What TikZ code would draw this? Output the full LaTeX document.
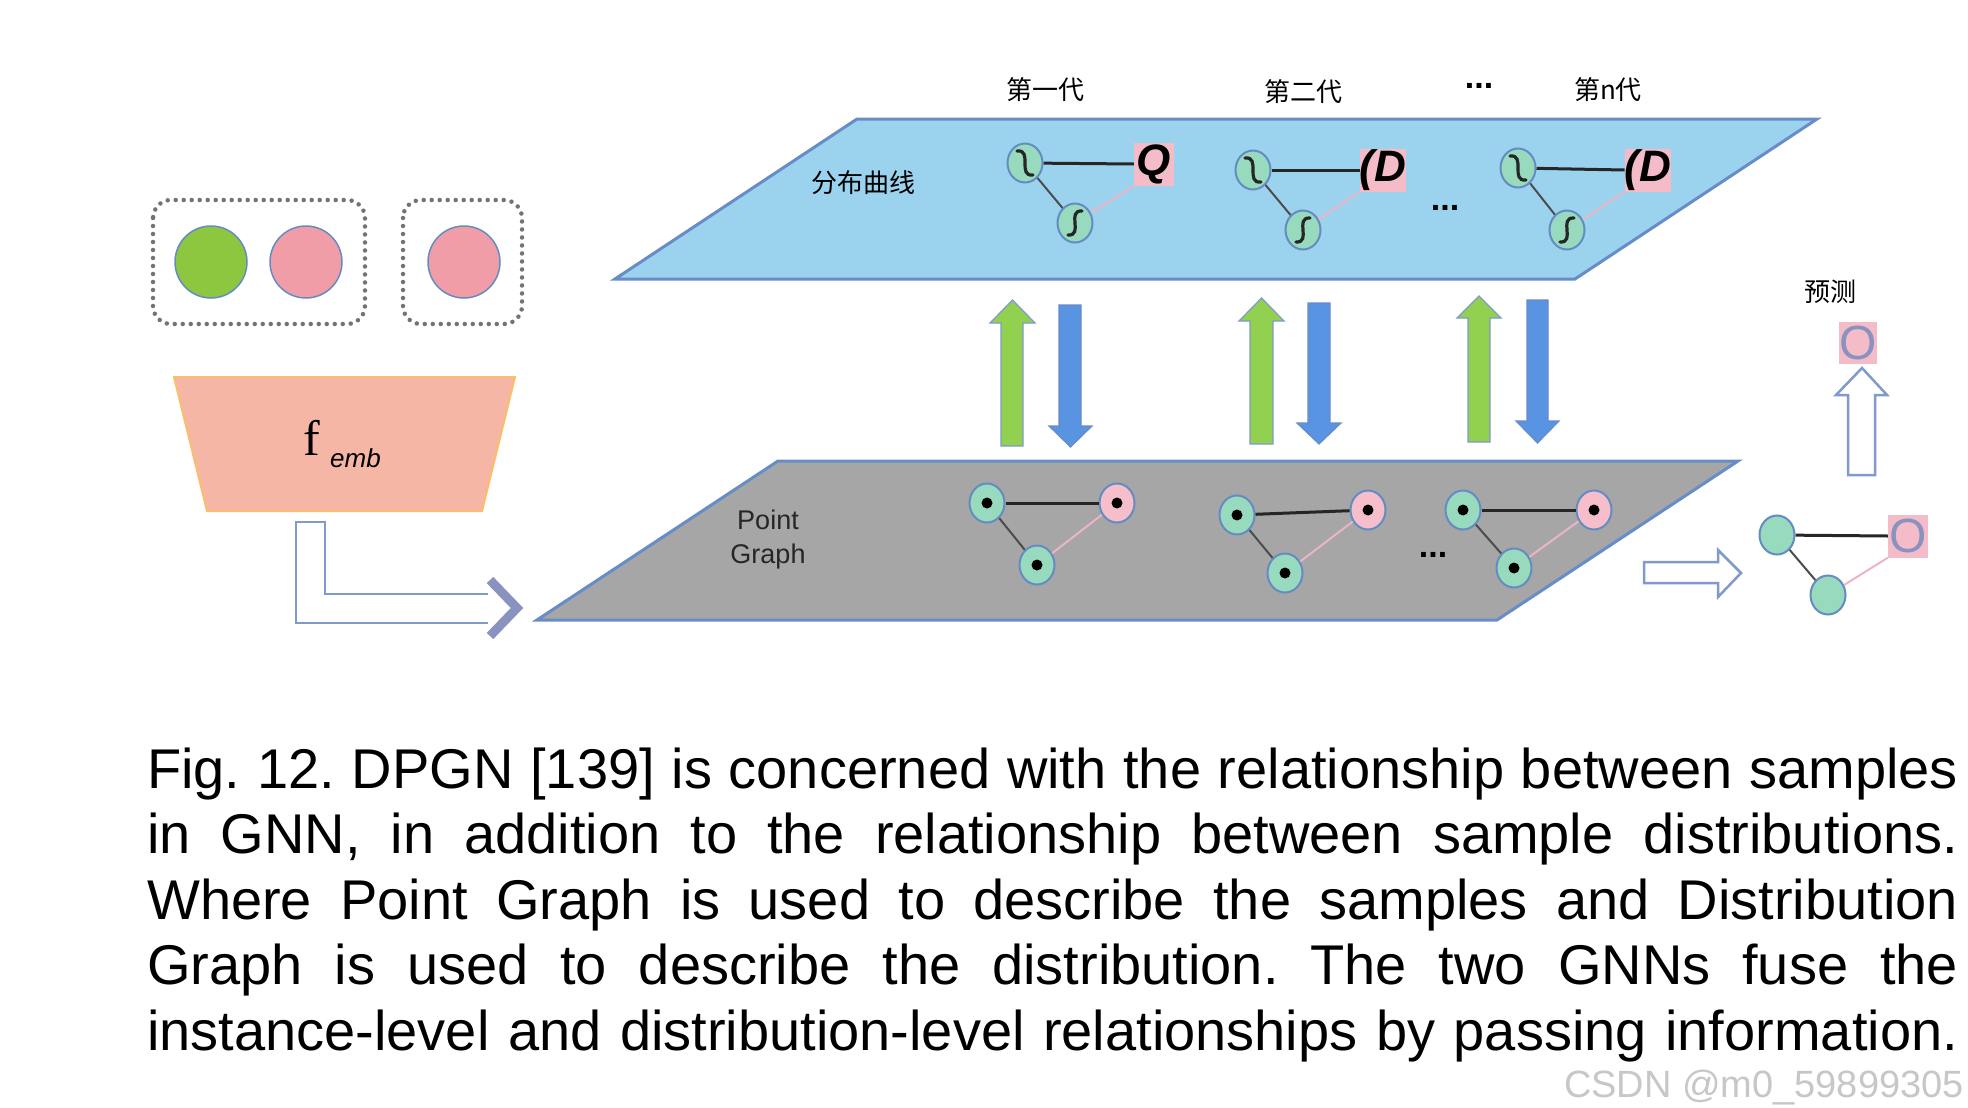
\documentclass[tikz,border=0pt]{standalone}
\usepackage{fontspec}
\newfontfamily\arialf{Liberation Sans}
\newfontfamily\timesf{Liberation Serif}
\newfontfamily\cjk{Noto Sans CJK SC}
\usetikzlibrary{shapes.geometric}
\frenchspacing
\definecolor{planeblue}{RGB}{155,211,238}
\definecolor{planeborder}{RGB}{104,140,200}
\definecolor{planegray}{RGB}{166,166,166}
\definecolor{mint}{RGB}{152,218,190}
\definecolor{nodeborder}{RGB}{100,140,195}
\definecolor{pinkC}{RGB}{244,188,200}
\definecolor{pinknode}{RGB}{245,190,202}
\definecolor{pinkedge}{RGB}{236,180,198}
\definecolor{greencirc}{RGB}{141,198,63}
\definecolor{pinkcirc}{RGB}{241,157,168}
\definecolor{salmon}{RGB}{245,182,166}
\definecolor{salmonborder}{RGB}{250,190,110}
\definecolor{arrgreen}{RGB}{146,208,80}
\definecolor{arrblue}{RGB}{88,148,226}
\definecolor{hollow}{RGB}{127,154,203}
\definecolor{chev}{RGB}{138,147,191}
\tikzset{
  plane/.style={draw=planeborder, line width=3pt, line join=miter},
  gnode/.style={ellipse, draw=nodeborder, line width=2pt, fill=mint, minimum width=35pt, minimum height=39pt, inner sep=0pt},
  pnode/.style={gnode, fill=pinknode},
  prect/.style={rectangle, fill=pinkC, minimum width=40pt, minimum height=43pt, inner sep=0pt},
  eblack/.style={line width=3pt, black!85},
  egray/.style={line width=2pt, black!70},
  epink/.style={line width=2pt, pinkedge},
  squig/.style={line width=3.2pt, black!85, line cap=round},
  cjklab/.style={font=\cjk\fontsize{26}{26}\selectfont, inner sep=0pt},
  dots/.style={font=\arialf\bfseries\fontsize{34}{34}\selectfont, inner sep=0pt},
  glyph/.style={font=\arialf\bfseries\itshape\fontsize{44}{44}\selectfont, text=black},
  vgreen/.style={fill=arrgreen, draw=hollow, line width=1.2pt, line join=miter},
  vblue/.style={fill=arrblue, draw=planeborder, line width=1.2pt, line join=miter},
  hollowarr/.style={fill=white, draw=hollow, line width=2.5pt, line join=miter},
  dotbox/.style={draw=black!55, line width=4.5pt, dash pattern=on 0pt off 8pt, line cap=round, rounded corners=18pt},
  bigcirc/.style={circle, draw=nodeborder, line width=1.5pt, minimum size=72pt, inner sep=0pt},
  capline/.style={anchor=base west, inner sep=0pt, font=\arialf\fontsize{56}{65.6}\selectfont}
}
\newcommand\squigA[1]{\draw[squig] ([shift={(-8,-12)}]#1.center) .. controls ([shift={(8,-14)}]#1.center) and ([shift={(-8,14)}]#1.center) .. ([shift={(8,12)}]#1.center);}
\newcommand\squigB[1]{\draw[squig] ([shift={(-7,12)}]#1.center) .. controls ([shift={(9,13)}]#1.center) and ([shift={(-9,-13)}]#1.center) .. ([shift={(7,-12)}]#1.center);}
\begin{document}
\begin{tikzpicture}[x=1pt,y=-1pt]
\useasboundingbox (0,0) rectangle (1968,1108);
\fill[white] (0,0) rectangle (1968,1108);

% ---------------- left: samples and embedding
\draw[dotbox] (153,200) rectangle (365,324);
\draw[dotbox] (403,200) rectangle (522,324);
\node[bigcirc, fill=greencirc] (s1) at (211,262) {};
\node[bigcirc, fill=pinkcirc] (s2) at (306,262) {};
\node[bigcirc, fill=pinkcirc] (s3) at (464,262) {};

\draw[fill=salmon, draw=salmonborder, line width=2pt] (174,377) -- (515,377) -- (482,511) -- (207,511) -- cycle;
\node[anchor=base, inner sep=0pt, font=\timesf\fontsize{50}{50}\selectfont] (ff) at (312,455) {f};
\node[anchor=base west, inner sep=0pt, font=\arialf\itshape\fontsize{26}{26}\selectfont] (femb) at (330,467) {emb};

% bent hollow arrow
\draw[hollow, line width=2.5pt, line join=miter] (488,594) -- (325,594) -- (325,522) -- (296,522) -- (296,623) -- (488,623);
\draw[chev, line width=9pt, line join=miter] (490,580) -- (517,608) -- (490,636);

% ---------------- planes
\draw[plane, fill=planeblue] (857,119) -- (1817,119) -- (1575,279) -- (615,279) -- cycle;
\draw[plane, fill=planegray] (778,461) -- (1738,461) -- (1497,620) -- (537,620) -- cycle;

% labels
\node[cjklab] (g1) at (1045,90) {第一代};
\node[cjklab] (g2) at (1303,92) {第二代};
\node[dots] (gd) at (1479,86) {...};
\node[cjklab] (gn) at (1608,90) {第n代};
\node[cjklab] (dist) at (863,183) {分布曲线};
\node[cjklab] (pred) at (1830,292) {预测};
\node[align=center, inner sep=0pt, text=black!85, font=\arialf\fontsize{27}{34}\selectfont] (pg) at (768,540) {Point\\Graph};

% ---------------- distribution graphs (top)
\node[gnode] (a1) at (1025,163) {};
\node[gnode] (b1) at (1075,223) {};
\node[prect, glyph] (c1) at (1154,164) {Q};
\node[gnode] (a2) at (1253,170) {};
\node[gnode] (b2) at (1303,230) {};
\node[prect, glyph] (c2) at (1383,170) {(D};
\node[gnode] (a3) at (1518,168) {};
\node[gnode] (b3) at (1567,230) {};
\node[prect, glyph] (c3) at (1648,170) {(D};
\foreach \i in {1,2,3}{
  \draw[eblack] (a\i) -- (c\i.west);
  \draw[egray] (a\i) -- (b\i);
  \draw[epink] (b\i) -- (c\i.south west);
  \squigA{a\i}
  \squigB{b\i}
}
\node[dots] (td) at (1445,208) {...};

% ---------------- point graphs (bottom)
\node[gnode] (p1) at (987,503) {};
\node[gnode] (q1) at (1037,565) {};
\node[pnode] (r1) at (1117,503) {};
\node[gnode] (p2) at (1237,515) {};
\node[gnode] (q2) at (1285,573) {};
\node[pnode] (r2) at (1368,510) {};
\node[gnode] (p3) at (1463,510) {};
\node[gnode] (q3) at (1514,568) {};
\node[pnode] (r3) at (1594,510) {};
\foreach \i in {1,2,3}{
  \draw[eblack] (p\i) -- (r\i);
  \draw[egray] (p\i) -- (q\i);
  \draw[epink] (q\i) -- (r\i);
  \foreach \n in {p,q,r}{\fill (\n\i.center) circle (5.5pt);}
}
\node[dots] (bd) at (1433,555) {...};

% ---------------- vertical message-passing arrows
\draw[vgreen] (1001,446) -- (1001,323) -- (990,323) -- (1012.5,300) -- (1035,323) -- (1023,323) -- (1023,446) -- cycle;
\draw[vblue] (1059,305) -- (1059,426) -- (1049,426) -- (1070.5,447) -- (1092,426) -- (1081,426) -- (1081,305) -- cycle;
\draw[vgreen] (1250,444) -- (1250,321) -- (1239,321) -- (1261.5,298) -- (1284,321) -- (1273,321) -- (1273,444) -- cycle;
\draw[vblue] (1308,303) -- (1308,423) -- (1297,423) -- (1319,444) -- (1341,423) -- (1330,423) -- (1330,303) -- cycle;
\draw[vgreen] (1468,442) -- (1468,318) -- (1457,318) -- (1479,296) -- (1501,318) -- (1490,318) -- (1490,442) -- cycle;
\draw[vblue] (1527,300) -- (1527,421) -- (1516,421) -- (1537.5,443) -- (1559,421) -- (1548,421) -- (1548,300) -- cycle;

% ---------------- right: output graph and prediction
\draw[hollowarr] (1644,562) -- (1718,562) -- (1718,550) -- (1741,573) -- (1718,597) -- (1718,583) -- (1644,583) -- cycle;
\node[gnode] (ra) at (1777,535) {};
\node[gnode] (rb) at (1828,595) {};
\node[prect, text=chev, font=\arialf\fontsize{48}{48}\selectfont] (rc) at (1908,536) {O};
\draw[eblack] (ra) -- (rc.west);
\draw[egray] (ra) -- (rb);
\draw[epink] (rb) -- (rc.south west);
\draw[hollowarr] (1848,475) -- (1848,395) -- (1836,395) -- (1862,368) -- (1887,395) -- (1875,395) -- (1875,475) -- cycle;
\node[prect, text=chev, font=\arialf\fontsize{48}{48}\selectfont, minimum width=38pt, minimum height=42pt] (ro) at (1858,343) {O};

% ---------------- caption
\node[capline] (l1) at (147,788) {\makebox[1811pt][s]{Fig. 12. DPGN [139] is concerned with the relationship between samples}};
\node[capline] (l2) at (147,853.6) {\makebox[1811pt][s]{in GNN, in addition to the relationship between sample distributions.}};
\node[capline] (l3) at (147,919.2) {\makebox[1811pt][s]{Where Point Graph is used to describe the samples and Distribution}};
\node[capline] (l4) at (147,984.8) {\makebox[1811pt][s]{Graph is used to describe the distribution. The two GNNs fuse the}};
\node[capline] (l5) at (147,1050.4) {\makebox[1811pt][s]{instance-level and distribution-level relationships by passing information.}};
\node[anchor=base east, inner sep=0pt, text=black!22, font=\arialf\fontsize{38}{38}\selectfont] (wm) at (1964,1097) {CSDN @m0\_59899305};
\end{tikzpicture}
\end{document}
